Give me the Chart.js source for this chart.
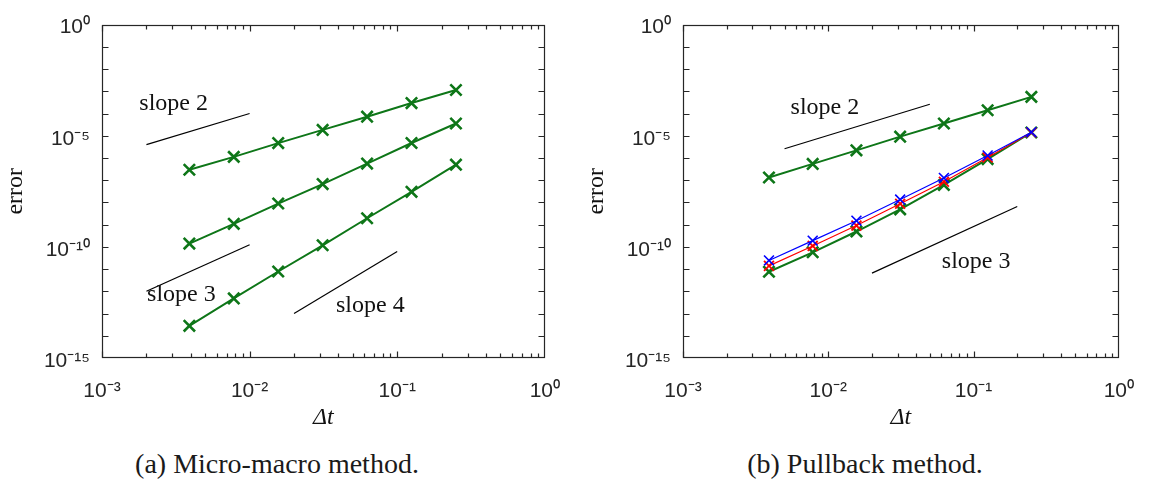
<!DOCTYPE html>
<html><head><meta charset="utf-8">
<script src="https://cdn.jsdelivr.net/npm/chart.js@4.4.1/dist/chart.umd.min.js"></script>
<style>
html,body{margin:0;padding:0;background:#fff;width:1155px;height:479px;overflow:hidden;}
canvas{position:absolute;top:0;}
#cA{left:0}
#cB{left:581px}
.cap{position:absolute;top:450px;font-family:'Liberation Serif',serif;font-size:28px;line-height:28px;color:#1a1a1a;white-space:nowrap;text-align:center;}
</style></head><body>
<canvas id="cA" width="581" height="432"></canvas>
<canvas id="cB" width="574" height="432"></canvas>
<div class="cap" style="left:77px;width:400px">(a) Micro-macro method.</div>
<div class="cap" style="left:665px;width:400px">(b) Pullback method.</div>
<script>
// time steps
const dt = [0.00390625, 0.0078125, 0.015625, 0.03125, 0.0625, 0.125, 0.25];

// (a) micro-macro method
const mmOrder2 = [2.95e-7, 1.12e-6, 4.66e-6, 1.83e-5, 7.2e-5, 2.95e-4, 1.14e-3];
const mmOrder3 = [1.41e-10, 1.09e-9, 8.9e-9, 6.7e-8, 5.6e-7, 4.7e-6, 3.56e-5];
const mmOrder4 = [2.8e-14, 4.8e-13, 7.8e-12, 1.18e-10, 1.94e-9, 3.0e-8, 5.0e-7];

// (b) pullback method
const pbOrder2 = [1.32e-7, 5.4e-7, 2.2e-6, 9.1e-6, 3.56e-5, 1.4e-4, 5.6e-4];
const pbBlue   = [2.45e-11, 1.9e-10, 1.5e-9, 1.35e-8, 1.26e-7, 1.29e-6, 1.44e-5];
const pbRed    = [1.4e-11, 1.1e-10, 9.1e-10, 8.7e-9, 8.5e-8, 1.05e-6, 1.4e-5];
const pbGreen  = [7.6e-12, 5.7e-11, 4.9e-10, 4.9e-9, 6.1e-8, 8.9e-7, 1.4e-5];

// reference slope lines (data coordinates)
const refA2x = [0.002, 0.01],  refA2y = [4e-6, 1e-4];
const refA3x = [0.002, 0.01],  refA3y = [1e-12, 1.25e-10];
const refA4x = [0.02, 0.1],    refA4y = [1e-13, 6.25e-11];
const refB2x = [0.005, 0.05],  refB2y = [2.6e-6, 2.6e-4];
const refB3x = [0.02, 0.2],    refB3y = [6.6e-12, 6.6e-9];

// slope annotations (data coordinates of text start / baseline)
const annA  = ['slope 2', 'slope 3', 'slope 4'];
const annAx = [0.00179, 0.00202, 0.0385];
const annAy = [1.38e-4, 3.8e-13, 1.15e-13];
const annB  = ['slope 2', 'slope 3'];
const annBx = [0.0055, 0.0605];
const annBy = [9.8e-5, 1.07e-11];

// axis ticks
const xTickValues = [1e-3, 1e-2, 1e-1, 1];
const xTickLabels = ['10⁻³', '10⁻²', '10⁻¹', '10⁰'];
const yTickValues = [1e-15, 1e-10, 1e-5, 1];
const yTickLabels = ['10⁻¹⁵', '10⁻¹⁰', '10⁻⁵', '10⁰'];

const GREEN = 'rgb(14,118,24)';

function pts(xs, ys) { return xs.map((x, i) => ({x: x, y: ys[i]})); }
function series(ys, color, lw, r, mw) {
  return {data: pts(dt, ys), borderColor: color, backgroundColor: color, borderWidth: lw,
    pointStyle: 'crossRot', pointRadius: r, pointHoverRadius: r, pointBorderWidth: mw,
    pointBorderColor: color, showLine: true, fill: false, tension: 0};
}
function refLine(xs, ys) {
  return {data: pts(xs, ys), borderColor: '#000', borderWidth: 1.2, pointRadius: 0,
    pointHoverRadius: 0, showLine: true, fill: false, tension: 0};
}

const framePlugin = {
  id: 'frame',
  afterDatasetsDraw(chart, args, opts) {
    const {ctx, chartArea: a} = chart;
    const x = chart.scales.x, y = chart.scales.y;
    ctx.save();
    ctx.strokeStyle = '#262626';
    ctx.lineWidth = 1.2;
    const L = Math.round(a.left) + 0.5, R = Math.round(a.right) - 0.5;
    const T = Math.round(a.top) + 0.5, B = Math.round(a.bottom) - 0.5;
    ctx.strokeRect(L, T, R - L, B - T);
    ctx.beginPath();
    for (let d = -3; d < 0; d++) {
      for (let k = 1; k < 10; k++) {
        const px = Math.round(x.getPixelForValue(k * Math.pow(10, d))) + 0.5;
        const len = k === 1 ? 6 : 4;
        ctx.moveTo(px, B); ctx.lineTo(px, B - len);
        ctx.moveTo(px, T); ctx.lineTo(px, T + len);
      }
    }
    for (let e = -14; e < 0; e++) {
      const py = Math.round(y.getPixelForValue(Math.pow(10, e))) + 0.5;
      ctx.moveTo(L, py); ctx.lineTo(L + 6, py);
      ctx.moveTo(R, py); ctx.lineTo(R - 6, py);
    }
    ctx.stroke();
    ctx.fillStyle = '#111';
    ctx.font = '24px "Liberation Serif"';
    ctx.textAlign = 'left';
    ctx.textBaseline = 'alphabetic';
    opts.labels.forEach((t, i) => {
      ctx.fillText(t, x.getPixelForValue(opts.lx[i]), y.getPixelForValue(opts.ly[i]));
    });
    ctx.restore();
  }
};

function makeChart(id, datasets, padRight, labels, lx, ly) {
  return new Chart(document.getElementById(id), {
    type: 'line',
    data: {datasets: datasets},
    plugins: [framePlugin],
    options: {
      responsive: false, animation: false, events: [],
      layout: {padding: {top: 15, right: padRight, left: 0, bottom: 0}},
      plugins: {legend: {display: false}, tooltip: {enabled: false},
        frame: {labels: labels, lx: lx, ly: ly}},
      scales: {
        x: {
          type: 'logarithmic', min: 1e-3, max: 1,
          afterBuildTicks: s => { s.ticks = xTickValues.map(v => ({value: v})); },
          afterFit: s => { s.height = 74; },
          grid: {display: false, drawTicks: false}, border: {display: false},
          ticks: {autoSkip: false, maxRotation: 0, minRotation: 0, padding: 21, color: '#262626',
            font: {family: 'Liberation Sans', size: 21}, callback: (v, i) => xTickLabels[i]},
          title: {display: true, text: 'Δt', color: '#111',
            font: {family: 'Liberation Serif', size: 24, style: 'italic'}, padding: {top: 0, bottom: 0}}
        },
        y: {
          type: 'logarithmic', min: 1e-15, max: 1,
          afterBuildTicks: s => { s.ticks = yTickValues.map(v => ({value: v})); },
          afterFit: s => { s.width = 102; },
          grid: {display: false, drawTicks: false}, border: {display: false},
          ticks: {autoSkip: false, padding: 12, labelOffset: 3, color: '#262626',
            font: {family: 'Liberation Sans', size: 21}, callback: (v, i) => yTickLabels[i]},
          title: {display: true, text: 'error', color: '#111',
            font: {family: 'Liberation Serif', size: 24}, padding: {top: 1, bottom: 0}}
        }
      }
    }
  });
}

makeChart('cA', [
  refLine(refA2x, refA2y), refLine(refA3x, refA3y), refLine(refA4x, refA4y),
  series(mmOrder2, GREEN, 2, 8, 2.6),
  series(mmOrder3, GREEN, 2, 8, 2.6),
  series(mmOrder4, GREEN, 2, 8, 2.6)
], 34, annA, annAx, annAy);

makeChart('cB', [
  refLine(refB2x, refB2y), refLine(refB3x, refB3y),
  series(pbOrder2, GREEN, 2, 8, 2.6),
  series(pbBlue, 'rgb(0,0,255)', 1.2, 7, 1.6),
  series(pbRed, 'rgb(255,0,0)', 1.2, 7, 1.8),
  series(pbGreen, GREEN, 2, 8, 2.6)
], 25, annB, annBx, annBy);
</script>
</body></html>
